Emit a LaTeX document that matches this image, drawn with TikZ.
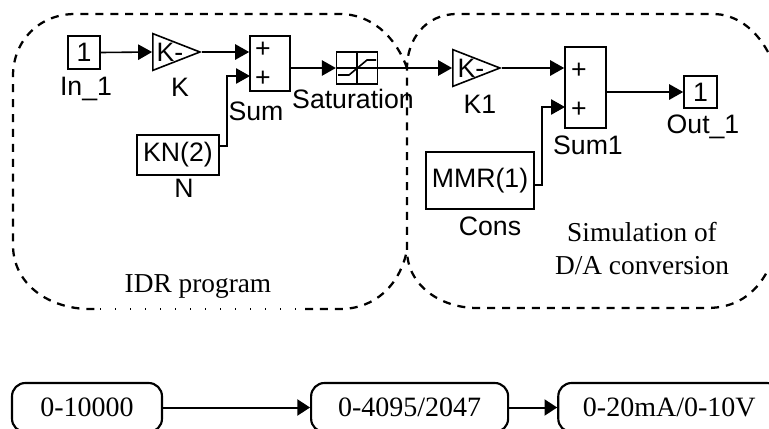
\documentclass[tikz,border=0pt]{standalone}
\usepackage{fontspec}
\setmainfont{Liberation Serif}
\setsansfont{Liberation Sans}
\usetikzlibrary{arrows.meta, positioning, shapes.geometric}
\tikzset{
  arrowS/.style={-{Triangle[length=10.5pt,width=11.5pt]}, line width=1.2pt},
  arrowB/.style={-{Triangle[length=9.5pt,width=12pt]}, line width=1.5pt},
  blockA/.style={rectangle, draw, line width=1.2pt, inner sep=0pt, font=\sffamily\fontsize{20}{22}\selectfont},
  gainA/.style={isosceles triangle, isosceles triangle stretches=true, draw, line width=1.2pt,
                inner sep=0pt, anchor=apex, minimum height=35.25pt, minimum width=27.5pt},
  plusA/.style={font=\sffamily\fontsize{20}{22}\selectfont, inner sep=0pt},
  labelS/.style={font=\sffamily\fontsize{20}{22}\selectfont, inner sep=0pt, anchor=base},
  labelT/.style={font=\fontsize{20.5}{24}\selectfont, inner sep=0pt, anchor=base},
  boxR/.style={rectangle, rounded corners=10pt, draw, line width=1.6pt, minimum height=36.75pt,
               font=\fontsize{21}{24}\selectfont, inner sep=0pt},
  regionD/.style={line width=1.7pt, dash pattern=on 6pt off 5.2pt},
}
\begin{document}
\begin{tikzpicture}[x=0.75pt, y=-0.75pt]
  \useasboundingbox (0,0) rectangle (769,429);
  % left region
  \draw[regionD] (407,68) .. controls (395,35) and (370,14) .. (340,14) -- (75,14)
    .. controls (40,14) and (13,40) .. (13,76) -- (13,245)
    .. controls (13,285) and (50,309) .. (90,309) -- (100,309);
  \draw[line width=1.2pt, dash pattern=on 1pt off 10.25pt] (100,309) -- (305,309);
  \draw[regionD] (305,309) -- (340,309) .. controls (375,309) and (400,285) .. (407,250);
  % right region
  \draw[regionD] (768,52) .. controls (755,28) and (735,14) .. (713,14) -- (457,14)
    .. controls (425,14) and (407,40) .. (407,68) -- (407,250)
    .. controls (407,285) and (440,308) .. (477,308) -- (707,308)
    .. controls (735,308) and (755,295) .. (768,270);
  % blocks
  \node[blockA, minimum width=24pt, minimum height=24.75pt] (inA) at (84,52.5) {1};
  \node[gainA] (gainK) at (202,52) {};
  \node[labelS] (txtK) at (170,61) {K-};
  \node[blockA, minimum width=30pt, minimum height=41.25pt] (sumA) at (270,63.5) {};
  \node[plusA] (plusK) at (263,50) {+};
  \node[plusA] (plusN) at (263,79) {+};
  \node[blockA, minimum width=61.5pt, minimum height=30pt] (kn) at (178,155) {KN(2)};
  \node[blockA, minimum width=30.5pt, minimum height=24pt] (sat) at (357,68) {};
  \node[gainA] (gainL) at (502,68) {};
  \node[labelS] (txtL) at (471,77) {K-};
  \node[blockA, minimum width=30.75pt, minimum height=60.75pt] (sumB) at (585.5,87.5) {};
  \node[plusA] (plusL) at (579,71) {+};
  \node[plusA] (plusM) at (579,110) {+};
  \node[blockA, minimum width=81pt, minimum height=42.75pt] (mmr) at (480,180.5) {MMR(1)};
  \node[blockA, minimum width=24.75pt, minimum height=24pt] (outA) at (700.5,92) {1};
  \coordinate (inN) at (250,76);
  \coordinate (inM) at (565,107);
  % saturation curve
  \draw[line width=1pt] (sat.north) -- (sat.south);
  \draw[line width=1pt] (sat.west) -- (sat.east);
  \draw[line width=1.2pt] (sat.center) ++(-19,7) -- ++(11,0) -- ++(18,-15) -- ++(9,0);
  % labels
  \node[labelS] (lblIn) at (86,95) {In\_1};
  \node[labelS] (lblK) at (180,96) {K};
  \node[labelS] (lblSum) at (256,120) {Sum};
  \node[labelS] (lblSat) at (353,108) {Saturation};
  \node[labelS] (lblN) at (184,197) {N};
  \node[labelS] (lblKa) at (480,113) {K1};
  \node[labelS] (lblSumB) at (588,154) {Sum1};
  \node[labelS] (lblOut) at (703,133) {Out\_1};
  \node[labelS] (lblCons) at (490,235) {Cons};
  \node[labelT] (idr) at (198,292) {IDR program};
  \node[labelT] (simA) at (642,241) {Simulation of};
  \node[labelT] (simB) at (642,274) {D/A conversion};
  % connectors
  \draw[arrowS] (inA.east) -- (gainK.lower side);
  \draw[arrowS] (gainK.apex) -- (sumA.west |- gainK.apex);
  \draw[arrowS] (kn.east) ++(0,-9) -- ++(7,0) |- (inN);
  \draw[arrowS] (sumA.east |- sat.west) -- (sat.west);
  \draw[arrowS] (sat.east) -- (gainL.lower side);
  \draw[arrowS] (gainL.apex) -- (sumB.west |- gainL.apex);
  \draw[arrowS] (mmr.east) ++(0,4.5) -- ++(7,0) |- (inM);
  \draw[arrowS] (sumB.east |- outA.west) -- (outA.west);
  % bottom row
  \node[boxR, minimum width=112.5pt] (rngA) at (87,407.5) {0-10000};
  \node[boxR, minimum width=147.75pt, right=110.25pt of rngA] (rngB) {0-4095/2047};
  \node[boxR, minimum width=166.5pt, right=36pt of rngB] (rngC) {0-20mA/0-10V};
  \draw[arrowB] (rngA) -- (rngB);
  \draw[arrowB] (rngB) -- (rngC);
\end{tikzpicture}
\end{document}
